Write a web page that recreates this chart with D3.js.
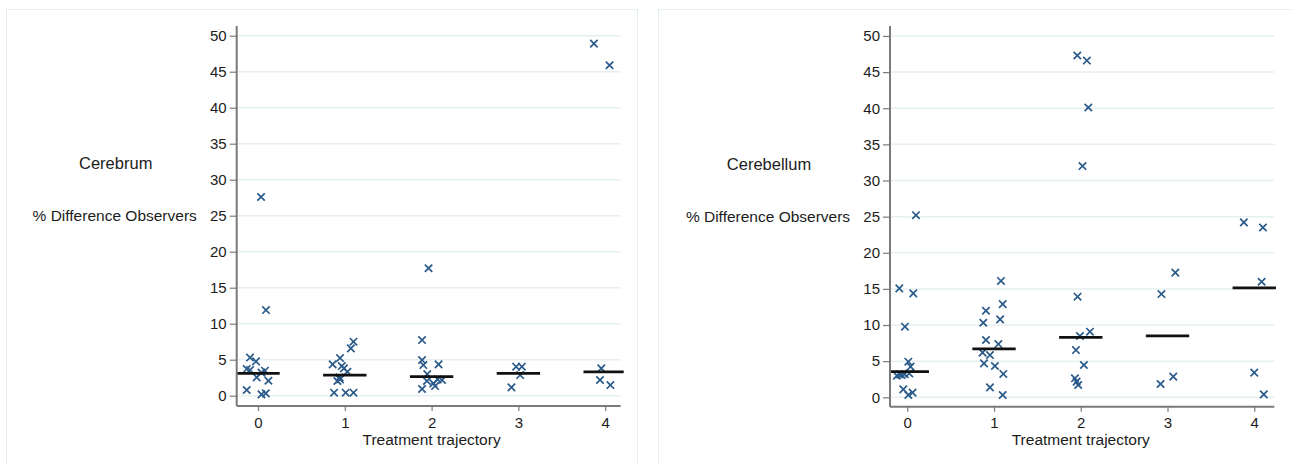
<!DOCTYPE html>
<html>
<head>
<meta charset="utf-8">
<script src="https://cdn.jsdelivr.net/npm/d3@7"></script>
<style>
  body { margin: 0; background: #fff; }
  text { font-family: 'Liberation Sans', Arial, Helvetica, sans-serif; fill: #1c1c1c; }
</style>
</head>
<body>
<script>
// two strip plots side by side, Stata-like look

const categories = [0, 1, 2, 3, 4];
const yTicks = [0, 5, 10, 15, 20, 25, 30, 35, 40, 45, 50];

// Cerebrum: jittered x position, % difference
const cerebrumX = [0.035, 0.092, -0.092, -0.023, -0.13, -0.092, 0.08, 0.04, -0.015, 0.12, -0.13, 0.04, 0.09,
  1.10, 1.07, 0.945, 0.86, 0.965, 0.99, 1.03, 0.94, 0.915, 0.945, 0.876, 1.01, 1.10,
  1.965, 1.89, 1.89, 1.905, 2.08, 1.95, 1.946, 2.07, 2.12, 2.02, 2.04, 1.89,
  2.974, 3.04, 3.02, 2.92,
  3.87, 4.05, 3.955, 3.94, 4.06];
const cerebrumY = [27.6, 11.9, 5.3, 4.77, 3.7, 3.56, 3.47, 3.2, 2.55, 2.08, 0.79, 0.19, 0.32,
  7.5, 6.57, 5.23, 4.35, 4.12, 3.8, 3.33, 2.55, 2.04, 2.27, 0.42, 0.42, 0.42,
  17.7, 7.73, 4.95, 4.26, 4.35, 3.0, 2.04, 2.27, 2.18, 1.71, 1.34, 0.93,
  4.03, 4.03, 2.87, 1.16,
  48.9, 45.9, 3.8, 2.18, 1.48];
const cerebrumMedian = [3.1, 2.85, 2.65, 3.1, 3.3];

// Cerebellum
const cerebellumX = [-0.092, 0.069, -0.027, 0.012, 0.038, -0.085, -0.12, -0.065, -0.03, 0.023, -0.046, 0.061, 0.012, 0.1,
  1.08, 0.907, 1.10, 0.876, 1.07, 0.907, 1.05, 0.868, 0.953, 0.884, 1.01, 1.107, 0.953, 1.10,
  1.96, 2.07, 2.087, 2.02, 1.963, 1.99, 2.106, 1.944, 2.036, 1.933, 1.952, 1.97,
  3.09, 2.93, 3.066, 2.92,
  3.88, 4.10, 4.085, 4.0, 4.11];
const cerebellumY = [15.07, 14.38, 9.77, 4.93, 4.24, 3.18, 3.0, 3.1, 3.2, 3.3, 1.1, 0.65, 0.32, 25.2,
  16.1, 11.98, 12.9, 10.32, 10.78, 7.93, 7.37, 6.18, 5.85, 4.7, 4.33, 3.23, 1.38, 0.32,
  47.3, 46.6, 40.1, 32.0, 13.92, 8.48, 9.08, 6.54, 4.47, 2.63, 2.17, 1.7,
  17.25, 14.29, 2.86, 1.84,
  24.2, 23.5, 15.99, 3.41, 0.41];
const cerebellumMedian = [3.55, 6.7, 8.3, 8.5, 15.15];

let width = 1291, height = 465;

let svg = d3.select('body')
  .append('svg')
    .attr('width', width)
    .attr('height', height);

function drawPanel(opt) {
  let g = svg.append('g');

  // faint panel frame
  g.append('rect')
    .attr('x', opt.box[0] + 0.5)
    .attr('y', 9.5)
    .attr('width', opt.box[1] - opt.box[0])
    .attr('height', 470)
    .attr('fill', 'none')
    .attr('stroke', '#e3eded')
    .attr('stroke-width', 1);

  let x = d3.scaleLinear().domain(opt.xDomain).range([opt.left, opt.right]);
  let y = d3.scaleLinear().domain(opt.yDomain).range([opt.bottom, opt.top]);

  // grid
  g.append('g')
    .selectAll('line')
    .data(yTicks)
    .enter()
    .append('line')
      .attr('x1', opt.left)
      .attr('x2', opt.right)
      .attr('y1', d => y(d))
      .attr('y2', d => y(d))
      .attr('stroke', '#e6eff1')
      .attr('stroke-width', 1.5);

  let clipId = 'clip' + opt.id;
  g.append('clipPath').attr('id', clipId)
    .append('rect')
      .attr('x', opt.left).attr('y', opt.top)
      .attr('width', opt.right - opt.left + 3)
      .attr('height', opt.bottom - opt.top);

  // points
  g.append('g')
    .selectAll('path')
    .data(opt.xs.map((d, i) => [d, opt.ys[i]]))
    .enter()
    .append('path')
      .attr('transform', d => `translate(${x(d[0])},${y(d[1])})`)
      .attr('d', 'M-3.7,-3.7L3.7,3.7M-3.7,3.7L3.7,-3.7')
      .attr('stroke', '#2a5a8a')
      .attr('stroke-width', 1.7)
      .attr('fill', 'none');

  // median bars
  g.append('g')
    .attr('clip-path', `url(#${clipId})`)
    .selectAll('line')
    .data(categories)
    .enter()
    .append('line')
      .attr('x1', d => x(d - 0.25))
      .attr('x2', d => x(d + 0.25))
      .attr('y1', d => y(opt.medians[d]))
      .attr('y2', d => y(opt.medians[d]))
      .attr('stroke', '#111')
      .attr('stroke-width', 2.8);

  // axes
  let yAxis = g.append('g')
    .attr('transform', `translate(${opt.left},0)`)
    .call(d3.axisLeft(y).tickValues(yTicks).tickSize(7).tickPadding(3));
  let xAxis = g.append('g')
    .attr('transform', `translate(0,${opt.bottom})`)
    .call(d3.axisBottom(x).tickValues(categories).tickSize(5).tickPadding(6).tickFormat(d3.format('d')));

  [yAxis, xAxis].forEach(a => {
    a.select('.domain').attr('stroke', '#7a7a7a').attr('stroke-width', 2);
    a.selectAll('.tick line').attr('stroke', '#7a7a7a').attr('stroke-width', 1.2);
    a.selectAll('.tick text')
      .style('font-family', "'Liberation Sans', Arial, sans-serif")
      .style('font-size', '15px')
      .attr('fill', '#1c1c1c');
  });
  // remove the outer ticks d3 draws on the domain
  yAxis.select('.domain').attr('d', `M0,${opt.top}V${opt.bottom}`);
  xAxis.select('.domain').attr('d', `M${opt.left},0H${opt.right}`);

  g.append('text')
    .attr('x', x(2))
    .attr('y', 445)
    .attr('text-anchor', 'middle')
    .style('font-size', '15.5px')
    .text('Treatment trajectory');

  g.append('text')
    .attr('x', opt.left - 121)
    .attr('y', 168.5 + opt.dy)
    .attr('text-anchor', 'middle')
    .style('font-size', '16.5px')
    .text(opt.title);

  g.append('text')
    .attr('x', opt.left - 122)
    .attr('y', 221 + opt.dy)
    .attr('text-anchor', 'middle')
    .style('font-size', '15.5px')
    .text('% Difference Observers');
}

drawPanel({
  id: 1, box: [6, 637], left: 236.7, right: 620.7, top: 26, bottom: 406,
  xDomain: [-0.2455, 4.1787], yDomain: [-1.43, 51.35],
  xs: cerebrumX, ys: cerebrumY, medians: cerebrumMedian,
  title: 'Cerebrum', dy: 0
});

drawPanel({
  id: 2, box: [658, 1300], left: 890, right: 1274.3, top: 26, bottom: 406.7,
  xDomain: [-0.1994, 4.2311], yDomain: [-1.3, 51.38],
  xs: cerebellumX, ys: cerebellumY, medians: cerebellumMedian,
  title: 'Cerebellum', dy: 1
});
</script>
</body>
</html>
